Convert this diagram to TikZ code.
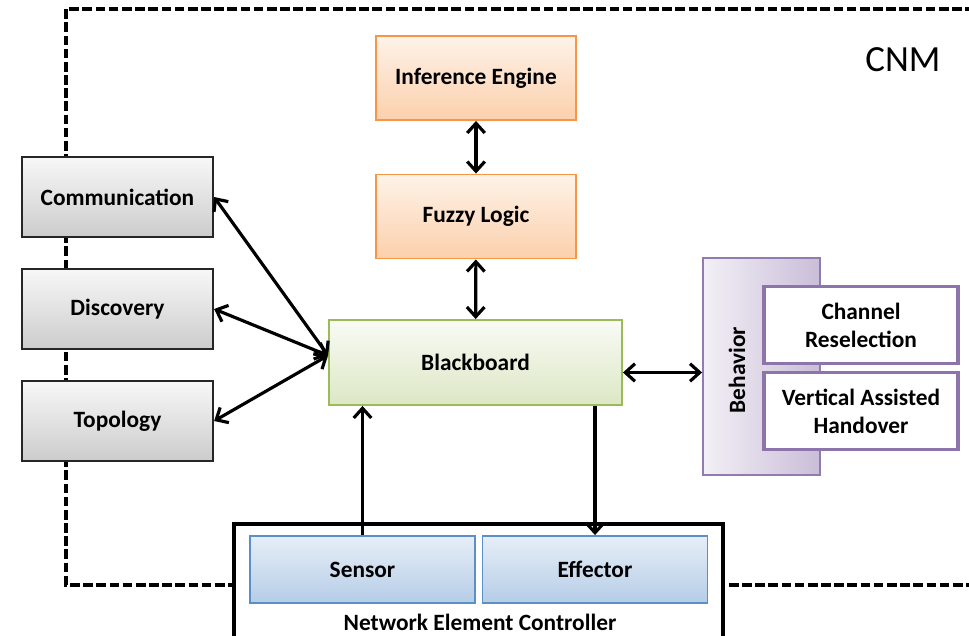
\documentclass[tikz,border=0pt]{standalone}
\usepackage{fontspec}
\setmainfont{Carlito}
\usepackage{tikz}
\usetikzlibrary{arrows.meta,positioning,calc}
\definecolor{ieBorder}{HTML}{F79646}
\definecolor{bbBorder}{HTML}{9BBB59}
\definecolor{snBorder}{HTML}{5B8FC9}
\definecolor{bhBorder}{HTML}{8064A2}
\tikzstyle{lbl}=[font=\bfseries\fontsize{13.3}{16}\selectfont,align=center]
\tikzstyle{gS}=[lbl,rectangle,draw=black!85,line width=1.3pt,top color=gray!6,bottom color=gray!40,minimum width=3.82cm,minimum height=1.6cm,inner sep=0pt]
\tikzstyle{oS}=[lbl,rectangle,draw=ieBorder,line width=1.1pt,top color=ieBorder!12,bottom color=ieBorder!45,minimum width=4cm,minimum height=1.68cm,inner sep=0pt]
\tikzstyle{bS}=[lbl,rectangle,draw=bbBorder,line width=1.1pt,top color=bbBorder!6,bottom color=bbBorder!35,minimum width=5.86cm,minimum height=1.7cm,inner sep=0pt]
\tikzstyle{pS}=[rectangle,draw=bhBorder!85,line width=1.1pt,left color=bhBorder!10,right color=bhBorder!42,minimum width=2.34cm,minimum height=4.34cm,inner sep=0pt]
\tikzstyle{wS}=[lbl,rectangle,draw=bhBorder!90,line width=1.8pt,fill=white,minimum width=3.88cm,minimum height=1.54cm,inner sep=0pt]
\tikzstyle{sS}=[lbl,rectangle,draw=snBorder,line width=1.1pt,top color=snBorder!15,bottom color=snBorder!45,minimum width=4.5cm,minimum height=1.34cm,inner sep=0pt]
\tikzstyle{eArr}=[line width=1.8pt,{Straight Barb[length=5.5pt,width=10pt]}-{Straight Barb[length=5.5pt,width=10pt]}]
\tikzstyle{oArr}=[line width=1.8pt,-{Straight Barb[length=5.5pt,width=10pt]}]

\begin{document}
\begin{tikzpicture}[x=0.02cm,y=-0.02cm]
  \useasboundingbox (0,0) rectangle (969,635);
  % CNM boundary
  \draw[line width=2.2pt,dash pattern=on 5.5pt off 2pt] (975,9) -- (66,9) -- (66,585) -- (975,585);
  \draw (903,60) node[font=\fontsize{21}{24}\selectfont] (cnm) {CNM};

  \draw (117.5,197) node[gS] (comm) {Communication};
  \draw (117.5,309) node[gS] (disc) {Discovery};
  \draw (117.5,421) node[gS] (topo) {Topology};

  \draw (476,78) node[oS] (ie) {Inference Engine};
  \draw (476,216.5) node[oS] (fl) {Fuzzy Logic};
  \draw (475.5,362.5) node[bS] (bb) {Blackboard};

  \draw (761.5,366.5) node[pS] (beh) {};
  \draw (737,370) node[lbl,rotate=90] (behtxt) {Behavior};
  \draw (861,325) node[wS] (chan) {Channel\\Reselection};
  \draw (861,411) node[wS] (vah) {Vertical Assisted\\Handover};

  % network element controller
  \draw[line width=2pt,fill=white] (234,524) rectangle (723,660);
  \draw (362.5,569.5) node[sS] (sen) {Sensor};
  \draw (595,569.5) node[sS] (eff) {Effector};
  \draw (480,622) node[lbl] (nec) {Network Element Controller};

  \coordinate (bbin) at ($(bb.west)+(0,-7)$);
  \draw[eArr] (ie) -- (fl);
  \draw[eArr] (fl) -- (bb);
  \draw[eArr] (bbin) -- (comm.east);
  \draw[eArr] (bbin) -- (disc.east);
  \draw[eArr] (bbin) -- (topo.east);
  \draw[eArr] ($(bb.east)+(0,10)$) -- ($(bb.east -| beh.west)+(0,10)$);
  \draw[oArr] (sen.north) -- (sen.north |- bb.south);
  \draw[oArr] (bb.south -| eff.north) -- (eff.north);
\end{tikzpicture}
\end{document}
